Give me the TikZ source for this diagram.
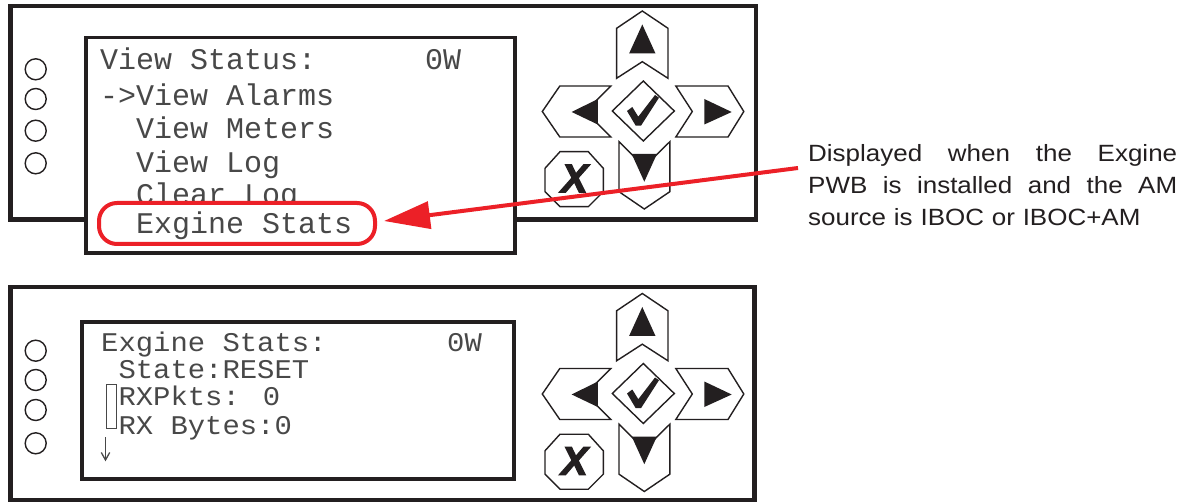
\documentclass[tikz,border=0pt]{standalone}
\usepackage{fontspec}
\setmainfont{Liberation Sans}
\newfontfamily\notefont[FakeStretch=1.105]{Liberation Sans}
\newfontfamily\lcdfont{Liberation Mono}
\newfontfamily\lcdfontB[FakeStretch=1.07]{Liberation Mono}
\newfontfamily\xfont[BoldItalicFeatures={FakeBold=3}]{Liberation Sans}
\usetikzlibrary{arrows.meta}
\definecolor{ink}{RGB}{35,31,32}
\definecolor{lcdink}{RGB}{72,72,72}
\definecolor{hlred}{RGB}{236,32,39}
\newcommand{\fullline}[1]{\leavevmode\hbox to 369pt{\spaceskip=0.28em plus 1fil\relax #1}}
\tikzset{
  frame/.style={draw=ink, line width=4.2pt, fill=white},
  lcd/.style={draw=ink, line width=3.8pt, fill=white},
  knob/.style={circle, draw=ink, line width=1.4pt, minimum size=21pt, inner sep=0pt},
  btn/.style={draw=ink, line width=1.4pt, fill=white, line join=miter},
  lcdA/.style={anchor=base west, inner sep=0pt, text=lcdink, font=\lcdfont\fontsize{30}{30}\selectfont},
  lcdB/.style={anchor=base west, inner sep=0pt, text=lcdink, font=\lcdfontB\fontsize{27}{27}\selectfont},
  lcdmark/.style={draw=lcdink, line width=1.3pt},
  hlbox/.style={draw=hlred, line width=4pt, fill=white, rounded corners=18pt, inner sep=0pt},
  note/.style={anchor=base west, inner sep=0pt, text=ink, text width=369pt, align=left, font=\notefont\fontsize{23.5}{31.7}\selectfont},
  redarrow/.style={draw=hlred, line width=4pt, -{Triangle[length=46pt,width=27pt]}},
  keypad/.pic={
    % up
    \draw[btn] (0,-100.5) -- (25.7,-83.2) -- (25.7,-33.2) -- (0,-49.8) -- (-25.7,-33.2) -- (-25.7,-83.2) -- cycle;
    \fill[ink] (0,-87) -- (13.2,-58) -- (-13.2,-58) -- cycle;
    % left
    \draw[btn] (-100,0) -- (-82.5,-25.5) -- (-31.5,-25.5) -- (-57,0) -- (-31.5,25.5) -- (-82.5,25.5) -- cycle;
    \fill[ink] (-70.6,0.5) -- (-44.5,-12.5) -- (-44.5,13) -- cycle;
    % right
    \draw[btn] (33.5,-25.5) -- (85.7,-25.5) -- (101.5,0) -- (85.7,25.5) -- (33.5,25.5) -- (50,0) -- cycle;
    \fill[ink] (62,-12.5) -- (89.4,0.5) -- (62,13) -- cycle;
    % down
    \draw[btn] (-23.3,30.2) -- (2,55.4) -- (27.5,30.2) -- (27.5,80.2) -- (2,97.5) -- (-23.3,80.2) -- cycle;
    \fill[ink] (-10.6,42.5) -- (14.6,42.5) -- (2,70.2) -- cycle;
    % check
    \draw[btn] (1,-30.5) -- (32,-0.5) -- (1,29.5) -- (-30,-0.5) -- cycle;
    \fill[ink] (-15.3,-0.5) -- (-10,-4.5) -- (-4,5.2) -- (12.7,-16.5) -- (16.7,-13.8) -- (-1.3,14.2) -- (-6.6,14.2) -- cycle;
    % cancel
    \draw[btn] (-82.3,40.2) -- (-54,40.2) -- (-39,56.8) -- (-39,80.2) -- (-54,95.2) -- (-82.3,95.2) -- (-97.3,80.2) -- (-97.3,56.8) -- cycle;
    \node[inner sep=0pt, text=ink, font=\xfont\bfseries\itshape\fontsize{40}{40}\selectfont] (-x) at (-67.8,67) {X};
  }
}
\begin{document}
\begin{tikzpicture}[x=1pt,y=-1pt]
\useasboundingbox (0,0) rectangle (1183,502);
\fill[white] (0,0) rectangle (1183,502);

% ---------- top panel ----------
\draw[frame] (10.5,6) rectangle (756,219.5);
\draw[lcd] (86.3,37.5) rectangle (514.7,253);
\node[knob] (kA1) at (35.7,69.3) {};
\node[knob] (kA2) at (35.7,99) {};
\node[knob] (kA3) at (35.7,130.7) {};
\node[knob] (kA4) at (35.7,163.3) {};
\pic (kpA) at (642.3,111.5) {keypad};

\node[lcdA] (t1) at (100,70) {View Status:};
\node[lcdA] (t1w) at (425,70) {0W};
\node[lcdA] (t2) at (100,106) {->View Alarms};
\node[lcdA] (t3) at (136,138.3) {View Meters};
\node[lcdA] (t4) at (136,172.7) {View Log};
\node[lcdA] (t5) at (136,205) {Clear Log};
\node[hlbox, minimum width=276pt, minimum height=41pt] (hl) at (237,223.5) {};
\node[lcdA] (t6) at (136,234) {Exgine Stats};

% ---------- bottom panel ----------
\draw[frame] (10.5,287) rectangle (754.5,500);
\draw[lcd] (82,322) rectangle (514,478.7);
\node[knob] (kB1) at (35.7,350.7) {};
\node[knob] (kB2) at (35.7,380) {};
\node[knob] (kB3) at (35.7,410) {};
\node[knob] (kB4) at (35.7,443.3) {};
\pic (kpB) at (642.3,394) {keypad};

\node[lcdB] (b1) at (101,351.7) {Exgine Stats:};
\node[lcdB] (b1w) at (447,351.7) {0W};
\node[lcdB] (b2) at (118.3,378.4) {State:RESET};
\node[lcdB] (b3) at (118.3,405.7) {RXPkts: 0};
\node[lcdB] (b4) at (118.3,434) {RX Bytes:0};
\draw[lcdmark] (106.7,384.3) rectangle (116.7,428.3);
\draw[lcdmark] (105.5,437) -- (105.5,460);
\draw[lcdmark] (101.3,452.5) -- (105.5,460) -- (109.7,452.5);

% ---------- annotation ----------
\node[note] (note) at (808,162) {\fullline{Displayed when the Exgine}\\\fullline{PWB is installed and the AM}\\source is IBOC or IBOC+AM};
\draw[redarrow] ([xshift=-10pt,yshift=-6pt]note.base west) -- ([xshift=7pt,yshift=2.5pt]hl.east);
\end{tikzpicture}
\end{document}
